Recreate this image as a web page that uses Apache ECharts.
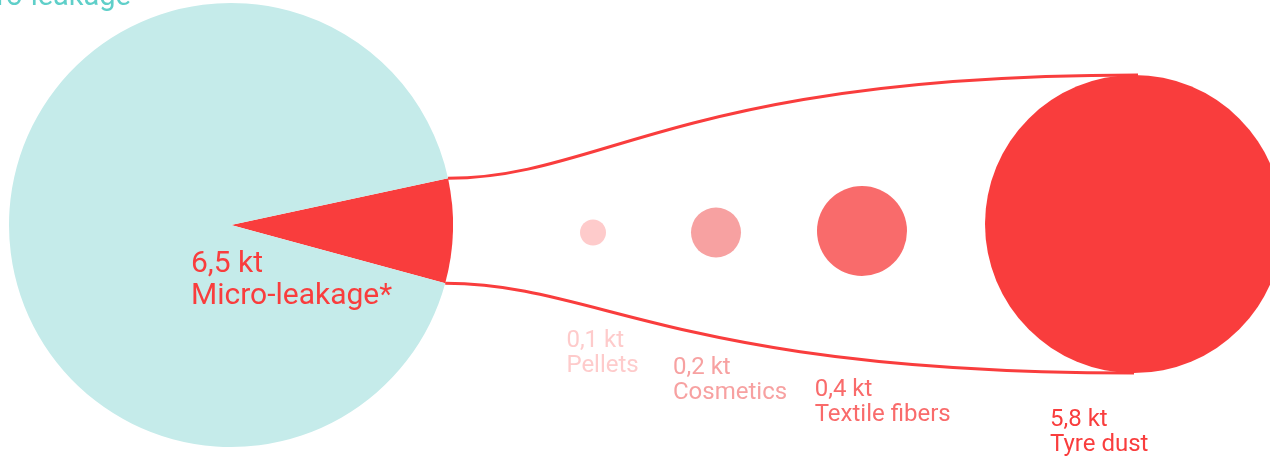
<!DOCTYPE html>
<html>
<head>
<meta charset="utf-8">
<style>
  html, body { margin: 0; padding: 0; background: #ffffff; }
  #chart { width: 1270px; height: 461px; }
</style>
<script src="https://cdn.jsdelivr.net/npm/echarts@6/dist/echarts.min.js"></script>
</head>
<body>
<div id="chart"></div>
<script>
// Leakage split (kt): micro vs. macro
const leakageNames = ['Micro-leakage*', 'Macro-leakage'];
const leakageValues = [6.5, 79];

// Micro-leakage sources (kt)
const sourceNames = ['Pellets', 'Cosmetics', 'Textile fibers', 'Tyre dust'];
const sourceValues = [0.1, 0.2, 0.4, 5.8];

// ---- layout & style ----
const W = 1270, H = 461;
const pieCenter = [231, 225];
const pieRadius = 222;
const pieStartAngle = 12.14;
const teal = '#c5ebea';
const tealText = '#5fcfc9';
const red = '#f93d3d';

const bubbleX = [593, 716, 862, 1134];
const bubbleY = [232.5, 232.5, 231, 224];
const bubbleDiameter = [26, 50, 90, 298];
const bubbleColors = ['#fecbcb', '#f7a1a1', '#f96b6b', '#f93d3d'];
// label top-left corner relative to bubble centre
const labelShift = [[-26.6, 95.5], [-43, 122.5], [-47.3, 146.5], [-84, 183]];

const fmt = v => v.toFixed(1).replace('.', ',') + ' kt';

// point on the pie rim at a given angle (deg, counter-clockwise from 3 o'clock)
function rimPoint(deg) {
  const a = deg * Math.PI / 180;
  return [pieCenter[0] + pieRadius * Math.cos(a), pieCenter[1] - pieRadius * Math.sin(a)];
}
const total = leakageValues.reduce((s, v) => s + v, 0);
const microSweep = 360 * leakageValues[0] / total;
const sliceTop = rimPoint(pieStartAngle);
const sliceBottom = rimPoint(pieStartAngle - microSweep);
const tyre = sourceValues.length - 1;
const tyreR = bubbleDiameter[tyre] / 2;
const connectors = [
  [sliceTop[0], sliceTop[1], bubbleX[tyre] + 4, bubbleY[tyre] - tyreR],
  [sliceBottom[0], sliceBottom[1], bubbleX[tyre], bubbleY[tyre] + tyreR]
];

const chart = echarts.init(document.getElementById('chart'), null, { renderer: 'canvas' });

chart.setOption({
  backgroundColor: '#ffffff',
  animation: false,
  textStyle: { fontFamily: 'Roboto' },
  grid: { left: 0, right: 0, top: 0, bottom: 0 },
  xAxis: { type: 'value', min: 0, max: W, show: false },
  yAxis: { type: 'value', min: 0, max: H, inverse: true, show: false },
  graphic: [
    {
      type: 'text', silent: true, z: 10,
      style: {
        text: leakageNames[1], x: 131, y: 12, align: 'right', verticalAlign: 'bottom',
        fill: tealText, font: '29px Roboto'
      }
    },
    {
      type: 'text', silent: true, z: 10,
      style: {
        text: fmt(leakageValues[0]) + '\n' + leakageNames[0], x: 191, y: 248,
        align: 'left', verticalAlign: 'top', lineHeight: 32,
        fill: red, font: '30px Roboto'
      }
    }
  ],
  series: [
    {
      type: 'pie',
      silent: true,
      z: 1,
      center: pieCenter,
      radius: pieRadius,
      startAngle: pieStartAngle,
      clockwise: true,
      label: { show: false },
      labelLine: { show: false },
      emphasis: { disabled: true },
      data: leakageNames.map((n, i) => ({
        name: n, value: leakageValues[i],
        itemStyle: { color: i === 0 ? red : teal }
      }))
    },
    {
      type: 'custom',
      coordinateSystem: 'cartesian2d',
      silent: true,
      z: 3,
      data: connectors,
      renderItem: function (params, api) {
        const p0 = api.coord([api.value(0), api.value(1)]);
        const p3 = api.coord([api.value(2), api.value(3)]);
        const dx = p3[0] - p0[0];
        return {
          type: 'bezierCurve',
          shape: {
            x1: p0[0], y1: p0[1],
            cpx1: p0[0] + 0.223 * dx, cpy1: p0[1],
            cpx2: p0[0] + 0.338 * dx, cpy2: p3[1],
            x2: p3[0], y2: p3[1]
          },
          style: { stroke: red, lineWidth: 3, fill: null }
        };
      }
    },
    {
      type: 'scatter',
      silent: true,
      z: 4,
      emphasis: { disabled: true },
      data: sourceNames.map((n, i) => ({
        name: n,
        value: [bubbleX[i], bubbleY[i], sourceValues[i]],
        symbolSize: bubbleDiameter[i],
        itemStyle: { color: bubbleColors[i], opacity: 1 },
        label: {
          show: true,
          position: 'inside',
          align: 'left',
          verticalAlign: 'top',
          offset: labelShift[i],
          color: bubbleColors[i],
          fontSize: 24,
          lineHeight: 25,
          fontFamily: 'Roboto',
          formatter: fmt(sourceValues[i]) + '\n' + n
        }
      }))
    }
  ]
});
</script>
</body>
</html>
